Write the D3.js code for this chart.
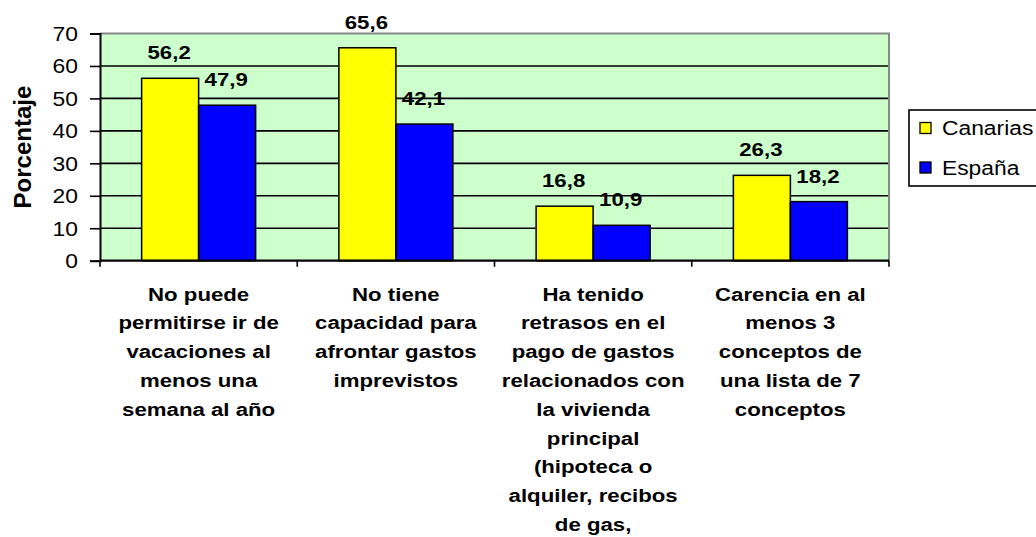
<!DOCTYPE html>
<html>
<head>
<meta charset="utf-8">
<script src="https://cdn.jsdelivr.net/npm/d3@7"></script>
<style>
  body { margin: 0; background: #fff; }
  svg { display: block; font-family: Arial, "Liberation Sans", sans-serif; }
</style>
</head>
<body>
<div class="chart"></div>
<script>
// data
const categories = [
    ["No puede", "permitirse ir de", "vacaciones al", "menos una", "semana al año"],
    ["No tiene", "capacidad para", "afrontar gastos", "imprevistos"],
    ["Ha tenido", "retrasos en el", "pago de gastos", "relacionados con", "la vivienda", "principal", "(hipoteca o", "alquiler, recibos", "de gas,"],
    ["Carencia en al", "menos 3", "conceptos de", "una lista de 7", "conceptos"]
];
const seriesNames = ["Canarias", "España"];
const canarias = [56.2, 65.6, 16.8, 26.3];
const espana = [47.9, 42.1, 10.9, 18.2];
const yTicks = [0, 10, 20, 30, 40, 50, 60, 70];

const colors = ["#ffff00", "#0000ff"];
const sx = 1.17; // horizontal stretch of the original text

const svgWidth = 1036, svgHeight = 537;
const margin = { top: 33.5, left: 100, right: 147, bottom: 276.3 };
const width = svgWidth - margin.left - margin.right;
const height = svgHeight - margin.top - margin.bottom;

const svg = d3.select(".chart").append("svg")
    .attr("width", svgWidth)
    .attr("height", svgHeight);

const chartGroup = svg.append("g")
    .attr("transform", `translate(${margin.left}, ${margin.top})`);

const idx = categories.map((d, i) => i);
const x0 = d3.scaleBand().domain(idx).range([0, width]).padding(0);
const bw = x0.bandwidth();
const x1 = d3.scaleBand().domain([0, 1]).range([bw * 0.211, bw * 0.789]).padding(0);
const y = d3.scaleLinear().domain([0, 70]).range([height, 0]);

// plot background
chartGroup.append("rect")
    .attr("width", width).attr("height", height)
    .attr("fill", "#ccffcc");

// gridlines
chartGroup.selectAll("line.grid")
    .data(yTicks.filter(t => t > 0 && t < 70))
    .enter().append("line")
    .attr("x1", 0).attr("x2", width)
    .attr("y1", d => y(d)).attr("y2", d => y(d))
    .attr("stroke", "#000").attr("stroke-width", 1.6);

// top and right border
chartGroup.append("path")
    .attr("d", `M0,${y(70)}H${width}V${height}`)
    .attr("fill", "none").attr("stroke", "#888").attr("stroke-width", 2);

// bars
const rows = idx.map(i => [canarias[i], espana[i]]);
const groups = chartGroup.selectAll("g.grp")
    .data(rows).enter().append("g")
    .attr("transform", (d, i) => `translate(${x0(i)},0)`);

groups.selectAll("rect")
    .data(d => d).enter().append("rect")
    .attr("x", (d, j) => x1(j))
    .attr("y", d => y(d))
    .attr("width", x1.bandwidth())
    .attr("height", d => height - y(d))
    .attr("fill", (d, j) => colors[j])
    .attr("stroke", "#000").attr("stroke-width", 1.5);

groups.selectAll("text")
    .data(d => d).enter().append("text")
    .attr("transform", (d, j) => `translate(${x1(j) + x1.bandwidth() / 2 - 1},${y(d) - 19}) scale(${sx},1)`)
    .attr("text-anchor", "middle")
    .style("font-size", "19px").style("font-weight", "bold")
    .text(d => String(d).replace(".", ","));

// y axis
const leftAxis = d3.axisLeft(y).tickValues(yTicks).tickSize(10).tickPadding(12);
const gy = chartGroup.append("g").call(leftAxis);
gy.select(".domain").attr("stroke", "#000").attr("stroke-width", 2);
gy.selectAll(".tick line").attr("stroke", "#000").attr("stroke-width", 1.6);
gy.selectAll(".tick text")
    .attr("x", null).attr("dy", "0.35em")
    .attr("transform", `translate(-22,0) scale(${sx},1)`)
    .style("font-size", "19.5px").attr("fill", "#000");

// x axis with ticks on the category boundaries
const gx = chartGroup.append("g").attr("transform", `translate(0,${height})`);
gx.append("line").attr("x1", 0).attr("x2", width)
    .attr("stroke", "#000").attr("stroke-width", 2.2);
gx.selectAll("line.tk")
    .data(idx.concat([idx.length])).enter().append("line")
    .attr("x1", d => d * bw).attr("x2", d => d * bw)
    .attr("y1", 0).attr("y2", 6)
    .attr("stroke", "#000").attr("stroke-width", 1.6);

// category labels
const labels = gx.selectAll("g.lbl")
    .data(categories).enter().append("g")
    .attr("transform", (d, i) => `translate(${x0(i) + bw / 2},40) scale(${sx},1)`);
labels.selectAll("text")
    .data(d => d).enter().append("text")
    .attr("y", (d, k) => k * 28.8)
    .attr("text-anchor", "middle")
    .style("font-size", "19px").style("font-weight", "bold")
    .text(d => d);

// y axis title
svg.append("text")
    .attr("transform", `translate(31,${margin.top + height / 2}) rotate(-90)`)
    .attr("text-anchor", "middle")
    .style("font-size", "24px").style("font-weight", "bold")
    .text("Porcentaje");

// legend
const legend = svg.append("g").attr("transform", "translate(909,110)");
legend.append("rect")
    .attr("width", 150).attr("height", 76)
    .attr("fill", "#fff").attr("stroke", "#000").attr("stroke-width", 1.6);
const li = legend.selectAll("g.it")
    .data(seriesNames).enter().append("g")
    .attr("transform", (d, i) => `translate(11,${18 + i * 39.5})`);
li.append("rect")
    .attr("y", -5.5).attr("width", 11).attr("height", 11)
    .attr("fill", (d, i) => colors[i])
    .attr("stroke", "#000").attr("stroke-width", 1.3);
li.append("text")
    .attr("transform", `translate(22,0) scale(${sx},1)`)
    .attr("dy", "0.36em")
    .style("font-size", "19.5px")
    .text(d => d);
</script>
</body>
</html>
